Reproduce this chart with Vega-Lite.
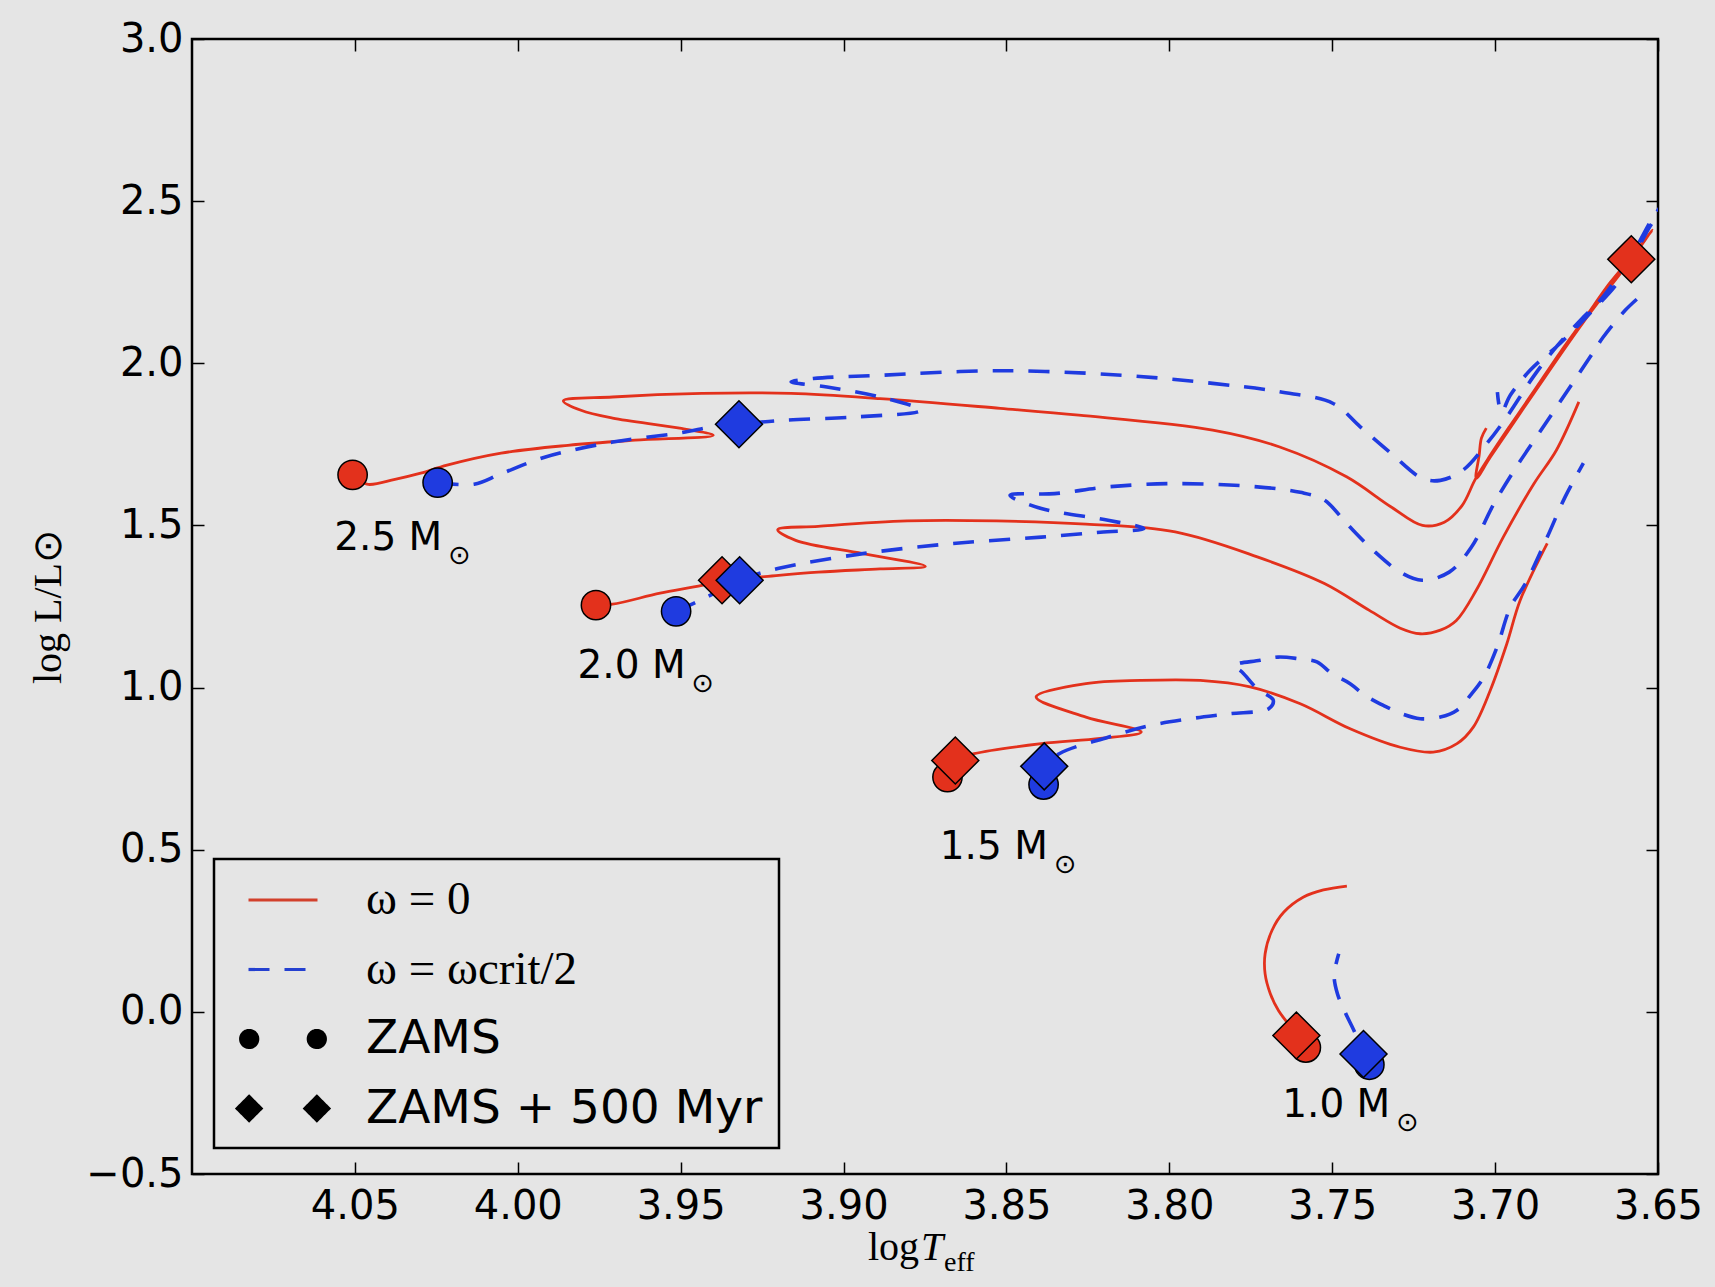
{
  "$schema": "https://vega.github.io/schema/vega-lite/v6.json",
  "width": 1466,
  "height": 1135,
  "autosize": {"type": "none"},
  "padding": {"left": 192, "top": 39, "right": 57, "bottom": 113},
  "background": "#e5e5e5",
  "config": {
    "font": "DejaVu Sans",
    "view": {"stroke": "black", "strokeWidth": 2.5},
    "axis": {"labelColor": "black", "tickColor": "black", "grid": false, "domain": false},
    "legend": {"strokeWidth": 2.5}
  },
  "datasets": {
    "tracks": [
      {"m":"2.5","rot":"0","i":1,"T":4.0507,"L":1.656},{"m":"2.5","rot":"0","i":2,"T":4.0463,"L":1.627},{"m":"2.5","rot":"0","i":3,"T":4.0377,"L":1.642},{"m":"2.5","rot":"0","i":4,"T":4.0298,"L":1.661},{"m":"2.5","rot":"0","i":5,"T":4.0217,"L":1.686},{"m":"2.5","rot":"0","i":6,"T":4.0051,"L":1.723},{"m":"2.5","rot":"0","i":7,"T":3.9846,"L":1.747},{"m":"2.5","rot":"0","i":8,"T":3.9640,"L":1.763},{"m":"2.5","rot":"0","i":9,"T":3.9400,"L":1.778},{"m":"2.5","rot":"0","i":10,"T":3.9503,"L":1.800},{"m":"2.5","rot":"0","i":11,"T":3.9709,"L":1.831},{"m":"2.5","rot":"0","i":12,"T":3.9806,"L":1.855},{"m":"2.5","rot":"0","i":13,"T":3.9860,"L":1.884},{"m":"2.5","rot":"0","i":14,"T":3.9709,"L":1.896},{"m":"2.5","rot":"0","i":15,"T":3.9435,"L":1.907},{"m":"2.5","rot":"0","i":16,"T":3.9161,"L":1.907},{"m":"2.5","rot":"0","i":17,"T":3.8888,"L":1.891},{"m":"2.5","rot":"0","i":18,"T":3.8519,"L":1.861},{"m":"2.5","rot":"0","i":19,"T":3.8278,"L":1.840},{"m":"2.5","rot":"0","i":20,"T":3.7867,"L":1.794},{"m":"2.5","rot":"0","i":21,"T":3.7661,"L":1.742},{"m":"2.5","rot":"0","i":22,"T":3.7456,"L":1.650},{"m":"2.5","rot":"0","i":23,"T":3.7319,"L":1.557},{"m":"2.5","rot":"0","i":24,"T":3.7223,"L":1.500},{"m":"2.5","rot":"0","i":25,"T":3.7156,"L":1.510},{"m":"2.5","rot":"0","i":26,"T":3.7101,"L":1.562},{"m":"2.5","rot":"0","i":27,"T":3.7061,"L":1.642},{"m":"2.5","rot":"0","i":28,"T":3.7015,"L":1.716},{"m":"2.5","rot":"0","i":29,"T":3.6953,"L":1.809},{"m":"2.5","rot":"0","i":30,"T":3.6883,"L":1.911},{"m":"2.5","rot":"0","i":31,"T":3.6800,"L":2.034},{"m":"2.5","rot":"0","i":32,"T":3.6729,"L":2.133},{"m":"2.5","rot":"0","i":33,"T":3.6646,"L":2.250},{"m":"2.5","rot":"0","i":34,"T":3.6582,"L":2.327},{"m":"2.5","rot":"0","i":35,"T":3.6517,"L":2.411},{"m":"2.5","rot":"0","i":36,"T":3.6582,"L":2.321},{"m":"2.5","rot":"0","i":37,"T":3.6729,"L":2.127},{"m":"2.5","rot":"0","i":38,"T":3.6883,"L":1.905},{"m":"2.5","rot":"0","i":39,"T":3.7015,"L":1.710},{"m":"2.5","rot":"0","i":40,"T":3.7058,"L":1.645},{"m":"2.5","rot":"0","i":41,"T":3.7049,"L":1.716},{"m":"2.5","rot":"0","i":42,"T":3.7042,"L":1.769},{"m":"2.5","rot":"0","i":43,"T":3.7027,"L":1.800},
      {"m":"2.5","rot":"crit","i":1,"T":4.0246,"L":1.632},{"m":"2.5","rot":"crit","i":2,"T":4.0134,"L":1.627},{"m":"2.5","rot":"crit","i":3,"T":4.0054,"L":1.658},{"m":"2.5","rot":"crit","i":4,"T":3.9915,"L":1.711},{"m":"2.5","rot":"crit","i":5,"T":3.9709,"L":1.757},{"m":"2.5","rot":"crit","i":6,"T":3.9503,"L":1.785},{"m":"2.5","rot":"crit","i":7,"T":3.9394,"L":1.806},{"m":"2.5","rot":"crit","i":8,"T":3.9321,"L":1.812},{"m":"2.5","rot":"crit","i":9,"T":3.9189,"L":1.824},{"m":"2.5","rot":"crit","i":10,"T":3.8955,"L":1.835},{"m":"2.5","rot":"crit","i":11,"T":3.8763,"L":1.855},{"m":"2.5","rot":"crit","i":12,"T":3.8888,"L":1.896},{"m":"2.5","rot":"crit","i":13,"T":3.9051,"L":1.927},{"m":"2.5","rot":"crit","i":14,"T":3.9161,"L":1.943},{"m":"2.5","rot":"crit","i":15,"T":3.9093,"L":1.953},{"m":"2.5","rot":"crit","i":16,"T":3.8888,"L":1.963},{"m":"2.5","rot":"crit","i":17,"T":3.8519,"L":1.977},{"m":"2.5","rot":"crit","i":18,"T":3.8142,"L":1.963},{"m":"2.5","rot":"crit","i":19,"T":3.7867,"L":1.938},{"m":"2.5","rot":"crit","i":20,"T":3.7661,"L":1.912},{"m":"2.5","rot":"crit","i":21,"T":3.7497,"L":1.876},{"m":"2.5","rot":"crit","i":22,"T":3.7414,"L":1.804},{"m":"2.5","rot":"crit","i":23,"T":3.7319,"L":1.722},{"m":"2.5","rot":"crit","i":24,"T":3.7223,"L":1.645},{"m":"2.5","rot":"crit","i":25,"T":3.7168,"L":1.639},{"m":"2.5","rot":"crit","i":26,"T":3.7099,"L":1.670},{"m":"2.5","rot":"crit","i":27,"T":3.7025,"L":1.753},{"m":"2.5","rot":"crit","i":28,"T":3.6964,"L":1.835},{"m":"2.5","rot":"crit","i":29,"T":3.6883,"L":1.958},{"m":"2.5","rot":"crit","i":30,"T":3.6821,"L":2.040},{"m":"2.5","rot":"crit","i":31,"T":3.6738,"L":2.133},{"m":"2.5","rot":"crit","i":32,"T":3.6677,"L":2.195},{"m":"2.5","rot":"crit","i":33,"T":3.6616,"L":2.278},{"m":"2.5","rot":"crit","i":34,"T":3.6576,"L":2.340},{"m":"2.5","rot":"crit","i":35,"T":3.6514,"L":2.452},{"m":"2.5","rot":"crit","i":36,"T":3.6447,"L":2.540},{"m":"2.5","rot":"crit","i":37,"T":3.6524,"L":2.423},{"m":"2.5","rot":"crit","i":38,"T":3.6616,"L":2.259},{"m":"2.5","rot":"crit","i":39,"T":3.6708,"L":2.155},{"m":"2.5","rot":"crit","i":40,"T":3.6800,"L":2.062},{"m":"2.5","rot":"crit","i":41,"T":3.6892,"L":1.979},{"m":"2.5","rot":"crit","i":42,"T":3.6953,"L":1.902},{"m":"2.5","rot":"crit","i":43,"T":3.6981,"L":1.849},{"m":"2.5","rot":"crit","i":44,"T":3.6993,"L":1.911},
      {"m":"2.0","rot":"0","i":1,"T":3.9760,"L":1.254},{"m":"2.0","rot":"0","i":2,"T":3.9709,"L":1.257},{"m":"2.0","rot":"0","i":3,"T":3.9563,"L":1.291},{"m":"2.0","rot":"0","i":4,"T":3.9435,"L":1.315},{"m":"2.0","rot":"0","i":5,"T":3.9373,"L":1.331},{"m":"2.0","rot":"0","i":6,"T":3.9257,"L":1.341},{"m":"2.0","rot":"0","i":7,"T":3.9078,"L":1.356},{"m":"2.0","rot":"0","i":8,"T":3.8888,"L":1.366},{"m":"2.0","rot":"0","i":9,"T":3.8749,"L":1.374},{"m":"2.0","rot":"0","i":10,"T":3.8941,"L":1.413},{"m":"2.0","rot":"0","i":11,"T":3.9147,"L":1.454},{"m":"2.0","rot":"0","i":12,"T":3.9202,"L":1.487},{"m":"2.0","rot":"0","i":13,"T":3.9078,"L":1.497},{"m":"2.0","rot":"0","i":14,"T":3.8805,"L":1.514},{"m":"2.0","rot":"0","i":15,"T":3.8531,"L":1.514},{"m":"2.0","rot":"0","i":16,"T":3.8256,"L":1.504},{"m":"2.0","rot":"0","i":17,"T":3.7982,"L":1.480},{"m":"2.0","rot":"0","i":18,"T":3.7730,"L":1.403},{"m":"2.0","rot":"0","i":19,"T":3.7524,"L":1.321},{"m":"2.0","rot":"0","i":20,"T":3.7386,"L":1.238},{"m":"2.0","rot":"0","i":21,"T":3.7291,"L":1.183},{"m":"2.0","rot":"0","i":22,"T":3.7230,"L":1.166},{"m":"2.0","rot":"0","i":23,"T":3.7168,"L":1.177},{"m":"2.0","rot":"0","i":24,"T":3.7119,"L":1.207},{"m":"2.0","rot":"0","i":25,"T":3.7058,"L":1.300},{"m":"2.0","rot":"0","i":26,"T":3.6975,"L":1.464},{"m":"2.0","rot":"0","i":27,"T":3.6880,"L":1.630},{"m":"2.0","rot":"0","i":28,"T":3.6812,"L":1.732},{"m":"2.0","rot":"0","i":29,"T":3.6743,"L":1.881},
      {"m":"2.0","rot":"crit","i":1,"T":3.9514,"L":1.235},{"m":"2.0","rot":"crit","i":2,"T":3.9422,"L":1.278},{"m":"2.0","rot":"crit","i":3,"T":3.9319,"L":1.331},{"m":"2.0","rot":"crit","i":4,"T":3.9202,"L":1.367},{"m":"2.0","rot":"crit","i":5,"T":3.8941,"L":1.413},{"m":"2.0","rot":"crit","i":6,"T":3.8667,"L":1.444},{"m":"2.0","rot":"crit","i":7,"T":3.8393,"L":1.464},{"m":"2.0","rot":"crit","i":8,"T":3.8212,"L":1.479},{"m":"2.0","rot":"crit","i":9,"T":3.8078,"L":1.490},{"m":"2.0","rot":"crit","i":10,"T":3.8188,"L":1.516},{"m":"2.0","rot":"crit","i":11,"T":3.8393,"L":1.552},{"m":"2.0","rot":"crit","i":12,"T":3.8489,"L":1.593},{"m":"2.0","rot":"crit","i":13,"T":3.8352,"L":1.598},{"m":"2.0","rot":"crit","i":14,"T":3.8188,"L":1.619},{"m":"2.0","rot":"crit","i":15,"T":3.7982,"L":1.629},{"m":"2.0","rot":"crit","i":16,"T":3.7730,"L":1.619},{"m":"2.0","rot":"crit","i":17,"T":3.7598,"L":1.602},{"m":"2.0","rot":"crit","i":18,"T":3.7524,"L":1.578},{"m":"2.0","rot":"crit","i":19,"T":3.7456,"L":1.506},{"m":"2.0","rot":"crit","i":20,"T":3.7374,"L":1.423},{"m":"2.0","rot":"crit","i":21,"T":3.7291,"L":1.356},{"m":"2.0","rot":"crit","i":22,"T":3.7224,"L":1.331},{"m":"2.0","rot":"crit","i":23,"T":3.7141,"L":1.356},{"m":"2.0","rot":"crit","i":24,"T":3.7073,"L":1.433},{"m":"2.0","rot":"crit","i":25,"T":3.7003,"L":1.568},{"m":"2.0","rot":"crit","i":26,"T":3.6935,"L":1.680},{"m":"2.0","rot":"crit","i":27,"T":3.6852,"L":1.804},{"m":"2.0","rot":"crit","i":28,"T":3.6770,"L":1.927},{"m":"2.0","rot":"crit","i":29,"T":3.6708,"L":2.020},{"m":"2.0","rot":"crit","i":30,"T":3.6668,"L":2.081},{"m":"2.0","rot":"crit","i":31,"T":3.6600,"L":2.164},{"m":"2.0","rot":"crit","i":32,"T":3.6551,"L":2.210},
      {"m":"1.5","rot":"0","i":1,"T":3.8681,"L":0.724},{"m":"1.5","rot":"0","i":2,"T":3.8657,"L":0.775},{"m":"1.5","rot":"0","i":3,"T":3.8599,"L":0.796},{"m":"1.5","rot":"0","i":4,"T":3.8393,"L":0.827},{"m":"1.5","rot":"0","i":5,"T":3.8212,"L":0.843},{"m":"1.5","rot":"0","i":6,"T":3.8086,"L":0.863},{"m":"1.5","rot":"0","i":7,"T":3.8256,"L":0.909},{"m":"1.5","rot":"0","i":8,"T":3.8409,"L":0.971},{"m":"1.5","rot":"0","i":9,"T":3.8256,"L":1.012},{"m":"1.5","rot":"0","i":10,"T":3.8089,"L":1.022},{"m":"1.5","rot":"0","i":11,"T":3.7905,"L":1.022},{"m":"1.5","rot":"0","i":12,"T":3.7752,"L":1.002},{"m":"1.5","rot":"0","i":13,"T":3.7598,"L":0.950},{"m":"1.5","rot":"0","i":14,"T":3.7445,"L":0.873},{"m":"1.5","rot":"0","i":15,"T":3.7291,"L":0.816},{"m":"1.5","rot":"0","i":16,"T":3.7190,"L":0.801},{"m":"1.5","rot":"0","i":17,"T":3.7117,"L":0.827},{"m":"1.5","rot":"0","i":18,"T":3.7067,"L":0.878},{"m":"1.5","rot":"0","i":19,"T":3.7015,"L":0.991},{"m":"1.5","rot":"0","i":20,"T":3.6964,"L":1.135},{"m":"1.5","rot":"0","i":21,"T":3.6923,"L":1.269},{"m":"1.5","rot":"0","i":22,"T":3.6840,"L":1.445},
      {"m":"1.5","rot":"crit","i":1,"T":3.8386,"L":0.701},{"m":"1.5","rot":"crit","i":2,"T":3.8384,"L":0.757},{"m":"1.5","rot":"crit","i":3,"T":3.8338,"L":0.796},{"m":"1.5","rot":"crit","i":4,"T":3.8188,"L":0.847},{"m":"1.5","rot":"crit","i":5,"T":3.8059,"L":0.883},{"m":"1.5","rot":"crit","i":6,"T":3.7936,"L":0.904},{"m":"1.5","rot":"crit","i":7,"T":3.7818,"L":0.919},{"m":"1.5","rot":"crit","i":8,"T":3.7695,"L":0.935},{"m":"1.5","rot":"crit","i":9,"T":3.7681,"L":0.961},{"m":"1.5","rot":"crit","i":10,"T":3.7731,"L":0.997},{"m":"1.5","rot":"crit","i":11,"T":3.7777,"L":1.048},{"m":"1.5","rot":"crit","i":12,"T":3.7803,"L":1.068},{"m":"1.5","rot":"crit","i":13,"T":3.7721,"L":1.084},{"m":"1.5","rot":"crit","i":14,"T":3.7666,"L":1.094},{"m":"1.5","rot":"crit","i":15,"T":3.7604,"L":1.089},{"m":"1.5","rot":"crit","i":16,"T":3.7547,"L":1.079},{"m":"1.5","rot":"crit","i":17,"T":3.7501,"L":1.043},{"m":"1.5","rot":"crit","i":18,"T":3.7445,"L":1.012},{"m":"1.5","rot":"crit","i":19,"T":3.7399,"L":0.976},{"m":"1.5","rot":"crit","i":20,"T":3.7343,"L":0.945},{"m":"1.5","rot":"crit","i":21,"T":3.7286,"L":0.919},{"m":"1.5","rot":"crit","i":22,"T":3.7230,"L":0.904},{"m":"1.5","rot":"crit","i":23,"T":3.7168,"L":0.909},{"m":"1.5","rot":"crit","i":24,"T":3.7117,"L":0.930},{"m":"1.5","rot":"crit","i":25,"T":3.7076,"L":0.976},{"m":"1.5","rot":"crit","i":26,"T":3.7035,"L":1.032},{"m":"1.5","rot":"crit","i":27,"T":3.6994,"L":1.125},{"m":"1.5","rot":"crit","i":28,"T":3.6953,"L":1.248},{"m":"1.5","rot":"crit","i":29,"T":3.6907,"L":1.321},{"m":"1.5","rot":"crit","i":30,"T":3.6840,"L":1.464},{"m":"1.5","rot":"crit","i":31,"T":3.6785,"L":1.588},{"m":"1.5","rot":"crit","i":32,"T":3.6729,"L":1.692},
      {"m":"1.0","rot":"0","i":1,"T":3.7581,"L":-0.110},{"m":"1.0","rot":"0","i":2,"T":3.7610,"L":-0.073},{"m":"1.0","rot":"0","i":3,"T":3.7639,"L":-0.032},{"m":"1.0","rot":"0","i":4,"T":3.7665,"L":0.004},{"m":"1.0","rot":"0","i":5,"T":3.7690,"L":0.056},{"m":"1.0","rot":"0","i":6,"T":3.7706,"L":0.117},{"m":"1.0","rot":"0","i":7,"T":3.7706,"L":0.179},{"m":"1.0","rot":"0","i":8,"T":3.7685,"L":0.251},{"m":"1.0","rot":"0","i":9,"T":3.7649,"L":0.307},{"m":"1.0","rot":"0","i":10,"T":3.7588,"L":0.354},{"m":"1.0","rot":"0","i":11,"T":3.7527,"L":0.376},{"m":"1.0","rot":"0","i":12,"T":3.7455,"L":0.388},
      {"m":"1.0","rot":"crit","i":1,"T":3.7386,"L":-0.163},{"m":"1.0","rot":"crit","i":2,"T":3.7404,"L":-0.130},{"m":"1.0","rot":"crit","i":3,"T":3.7429,"L":-0.067},{"m":"1.0","rot":"crit","i":4,"T":3.7460,"L":-0.002},{"m":"1.0","rot":"crit","i":5,"T":3.7484,"L":0.056},{"m":"1.0","rot":"crit","i":6,"T":3.7494,"L":0.112},{"m":"1.0","rot":"crit","i":7,"T":3.7480,"L":0.179}
    ],
    "markers": [
      {"m":"2.5","rot":"0","stage":"ZAMS","T":4.0507,"L":1.656},
      {"m":"2.0","rot":"0","stage":"ZAMS","T":3.9760,"L":1.254},
      {"m":"1.5","rot":"0","stage":"ZAMS","T":3.8681,"L":0.724},
      {"m":"1.0","rot":"0","stage":"ZAMS","T":3.7581,"L":-0.110},
      {"m":"2.5","rot":"crit","stage":"ZAMS","T":4.0246,"L":1.632},
      {"m":"2.0","rot":"crit","stage":"ZAMS","T":3.9514,"L":1.235},
      {"m":"1.5","rot":"crit","stage":"ZAMS","T":3.8386,"L":0.701},
      {"m":"1.0","rot":"crit","stage":"ZAMS","T":3.7386,"L":-0.163},
      {"m":"2.5","rot":"0","stage":"ZAMS + 500 Myr","T":3.6582,"L":2.321},
      {"m":"2.0","rot":"0","stage":"ZAMS + 500 Myr","T":3.9373,"L":1.331},
      {"m":"1.5","rot":"0","stage":"ZAMS + 500 Myr","T":3.8657,"L":0.775},
      {"m":"1.0","rot":"0","stage":"ZAMS + 500 Myr","T":3.7610,"L":-0.073},
      {"m":"2.5","rot":"crit","stage":"ZAMS + 500 Myr","T":3.9321,"L":1.812},
      {"m":"2.0","rot":"crit","stage":"ZAMS + 500 Myr","T":3.9319,"L":1.331},
      {"m":"1.5","rot":"crit","stage":"ZAMS + 500 Myr","T":3.8384,"L":0.757},
      {"m":"1.0","rot":"crit","stage":"ZAMS + 500 Myr","T":3.7404,"L":-0.130}
    ],
    "labels": [
      {"label":"2.5 M","T":4.0241,"L":1.4255},
      {"label":"2.0 M","T":3.9494,"L":1.0284},
      {"label":"1.5 M","T":3.8382,"L":0.4711},
      {"label":"1.0 M","T":3.7331,"L":-0.3255}
    ]
  },
  "layer": [
    {
      "data": {"name": "tracks"},
      "transform": [{"filter": "datum.rot == '0'"}],
      "mark": {"type": "line", "color": "#e3311c", "strokeWidth": 2.8, "clip": true, "strokeJoin": "round", "interpolate": "catmull-rom"},
      "encoding": {
        "x": {"field": "T", "type": "quantitative",
              "scale": {"domain": [3.65, 4.10], "reverse": true, "nice": false, "zero": false},
              "axis": {"orient": "bottom", "values": [4.05, 4.0, 3.95, 3.9, 3.85, 3.8, 3.75, 3.7, 3.65], "format": ".2f", "title": null,
                       "tickSize": -12, "tickWidth": 1.5, "labelFont": "DejaVu Sans", "labelFontSize": 40, "labelPadding": 24,
                       "labelFlush": false, "labelOverlap": false}},
        "y": {"field": "L", "type": "quantitative",
              "scale": {"domain": [-0.5, 3.0], "nice": false, "zero": false},
              "axis": {"orient": "left", "values": [-0.5, 0, 0.5, 1, 1.5, 2, 2.5, 3], "format": ".1f",
                       "title": "log L/L⊙", "titleFont": "Liberation Serif", "titleFontSize": 40, "titleFontWeight": "normal",
                       "titleColor": "black", "titleX": -132, "titleY": 567, "titleAngle": 270, "titleAlign": "center", "titleBaseline": "alphabetic",
                       "tickSize": -12, "tickWidth": 1.5, "labelFont": "DejaVu Sans", "labelFontSize": 40, "labelPadding": 21,
                       "labelFlush": false, "labelOverlap": false}},
        "detail": {"field": "m", "type": "nominal"},
        "order": {"field": "i", "type": "quantitative"}
      }
    },
    {
      "data": {"name": "tracks"},
      "transform": [{"filter": "datum.rot == 'crit'"}],
      "mark": {"type": "line", "color": "#1f3be0", "strokeWidth": 3.6, "strokeDash": [21, 15], "clip": true, "interpolate": "catmull-rom"},
      "encoding": {
        "x": {"field": "T", "type": "quantitative",
              "scale": {"domain": [3.65, 4.10], "reverse": true, "nice": false, "zero": false},
              "axis": {"orient": "top", "values": [4.05, 4.0, 3.95, 3.9, 3.85, 3.8, 3.75, 3.7, 3.65], "labels": false, "title": null,
                       "tickSize": -12, "tickWidth": 1.5}},
        "y": {"field": "L", "type": "quantitative",
              "scale": {"domain": [-0.5, 3.0], "nice": false, "zero": false},
              "axis": {"orient": "right", "values": [-0.5, 0, 0.5, 1, 1.5, 2, 2.5, 3], "labels": false, "title": null,
                       "tickSize": -12, "tickWidth": 1.5}},
        "detail": {"field": "m", "type": "nominal"},
        "order": {"field": "i", "type": "quantitative"}
      }
    },
    {
      "data": {"name": "markers"},
      "transform": [{"filter": "datum.stage == 'ZAMS'"}],
      "mark": {"type": "point", "shape": "circle", "filled": true, "size": 860, "stroke": "black", "strokeWidth": 1.5, "opacity": 1},
      "encoding": {
        "x": {"field": "T", "type": "quantitative", "axis": null},
        "y": {"field": "L", "type": "quantitative", "axis": null},
        "fill": {"field": "rot", "type": "nominal", "scale": {"domain": ["0", "crit"], "range": ["#e3311c", "#1f3be0"]}, "legend": null}
      }
    },
    {
      "data": {"name": "markers"},
      "transform": [{"filter": "datum.stage != 'ZAMS'"}],
      "mark": {"type": "point", "shape": "diamond", "filled": true, "size": 2209, "stroke": "black", "strokeWidth": 1.5, "opacity": 1},
      "encoding": {
        "x": {"field": "T", "type": "quantitative", "axis": null},
        "y": {"field": "L", "type": "quantitative", "axis": null},
        "fill": {"field": "rot", "type": "nominal", "scale": {"domain": ["0", "crit"], "range": ["#e3311c", "#1f3be0"]}, "legend": null}
      }
    },
    {
      "data": {"name": "labels"},
      "mark": {"type": "text", "align": "right", "baseline": "alphabetic", "font": "DejaVu Sans", "fontSize": 39, "color": "black", "dx": 3},
      "encoding": {
        "x": {"field": "T", "type": "quantitative", "axis": null},
        "y": {"field": "L", "type": "quantitative", "axis": null},
        "text": {"field": "label", "type": "nominal"}
      }
    },
    {
      "data": {"name": "labels"},
      "mark": {"type": "text", "align": "left", "baseline": "alphabetic", "font": "DejaVu Sans", "fontSize": 27, "color": "black", "dx": 9, "dy": 14, "text": "⊙"},
      "encoding": {
        "x": {"field": "T", "type": "quantitative", "axis": null},
        "y": {"field": "L", "type": "quantitative", "axis": null}
      }
    },
    {
      "data": {"values": [{}]},
      "mark": {"type": "text", "text": "log", "align": "right", "baseline": "alphabetic", "font": "Liberation Serif", "fontSize": 40, "color": "black", "dx": -1, "dy": 85.5, "clip": false},
      "encoding": {
        "x": {"datum": 3.8765, "type": "quantitative", "axis": null},
        "y": {"datum": -0.5, "type": "quantitative", "axis": null}
      }
    },
    {
      "data": {"values": [{}]},
      "mark": {"type": "text", "text": "T", "align": "left", "baseline": "alphabetic", "font": "Liberation Serif", "fontStyle": "italic", "fontSize": 40, "color": "black", "dx": 1, "dy": 85.5, "clip": false},
      "encoding": {
        "x": {"datum": 3.8765, "type": "quantitative", "axis": null},
        "y": {"datum": -0.5, "type": "quantitative", "axis": null}
      }
    },
    {
      "data": {"values": [{}]},
      "mark": {"type": "text", "text": "eff", "align": "left", "baseline": "alphabetic", "font": "Liberation Serif", "fontSize": 28, "color": "black", "dx": 24, "dy": 96.5, "clip": false},
      "encoding": {
        "x": {"datum": 3.8765, "type": "quantitative", "axis": null},
        "y": {"datum": -0.5, "type": "quantitative", "axis": null}
      }
    },
    {
      "data": {"name": "markers"},
      "transform": [{"filter": "false"}],
      "mark": {"type": "point", "filled": true, "opacity": 1, "size": 2116},
      "encoding": {
        "color": {"field": "key", "type": "nominal",
                  "scale": {"domain": ["ω = 0", "ω = ωcrit/2", "ZAMS", "ZAMS + 500 Myr"], "range": ["#e3311c", "#1f3be0", "black", "black"]},
                  "legend": {"title": null, "orient": "none", "legendX": 22, "legendY": 820, "padding": 16, "rowPadding": 21.5,
                             "symbolSize": 2116, "symbolOffset": 28, "labelOffset": 58, "symbolStrokeWidth": 3.2,
                             "labelFont": {"expr": "datum.index < 2 ? 'Liberation Serif' : 'DejaVu Sans'"},
                             "labelFontSize": 47, "labelColor": "black", "labelLimit": 1000,
                             "strokeColor": "black", "fillColor": "#e5e5e5"}},
        "stroke": {"field": "key", "type": "nominal",
                   "scale": {"domain": ["ω = 0", "ω = ωcrit/2", "ZAMS", "ZAMS + 500 Myr"], "range": ["#d2402c", "#2440d0", "black", "black"]}},
        "shape": {"field": "key", "type": "nominal",
                  "scale": {"domain": ["ω = 0", "ω = ωcrit/2", "ZAMS", "ZAMS + 500 Myr"],
                            "range": ["M -1.5 0 L 1.5 0", "M -1.5 0 L 1.5 0",
                                      "M -1.1 0 A 0.37 0.37 0 1 0 -1.84 0 A 0.37 0.37 0 1 0 -1.1 0 Z M 1.84 0 A 0.37 0.37 0 1 0 1.1 0 A 0.37 0.37 0 1 0 1.84 0 Z",
                                      "M -1.473 -0.52 L -0.953 0 L -1.473 0.52 L -1.993 0 Z M 1.473 -0.52 L 1.993 0 L 1.473 0.52 L 0.953 0 Z"]}},
        "strokeDash": {"field": "key", "type": "nominal",
                       "scale": {"domain": ["ω = 0", "ω = ωcrit/2", "ZAMS", "ZAMS + 500 Myr"], "range": [[1, 0], [21, 15], [1, 0], [1, 0]]}}
      }
    }
  ],
  "resolve": {"axis": {"x": "independent", "y": "independent"}}
}
